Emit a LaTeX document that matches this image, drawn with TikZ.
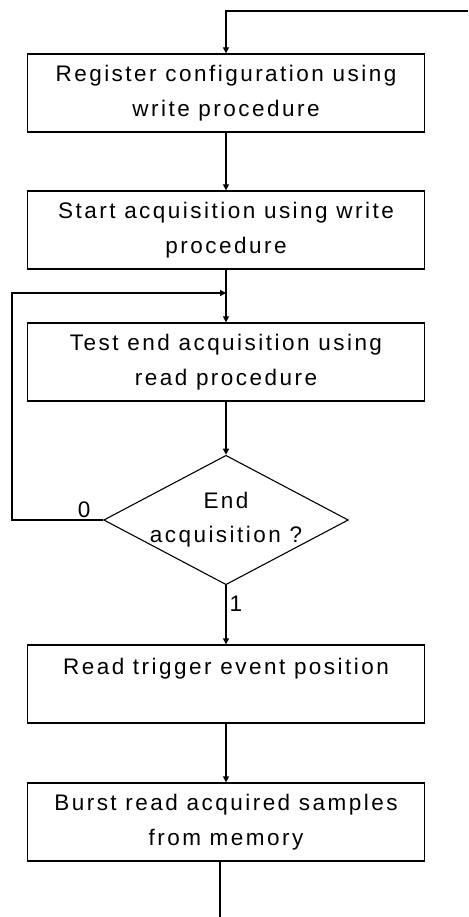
\documentclass[tikz,border=0pt]{standalone}
\usepackage{fontspec}
\setmainfont{Liberation Sans}[LetterSpace=11]
\usetikzlibrary{shapes.geometric,arrows.meta}

\begin{document}
\begin{tikzpicture}[x=1pt,y=-1pt,
	stepbox/.style={draw,line width=1.3pt,minimum width=397pt,minimum height=78pt,inner sep=0,align=center,font=\fontsize{22.5}{35}\selectfont},
	decision/.style={draw,diamond,line width=1.1pt,aspect=1.89,inner sep=-2pt,align=center,font=\fontsize{22.5}{34}\selectfont},
	flow/.style={line width=1.3pt,-{Triangle[length=6pt,width=6pt]}},
	tag/.style={inner sep=0,font=\fontsize{22.5}{25}\selectfont}]
	\useasboundingbox (0,0) rectangle (468,917);
	\node[stepbox] (1) at (226,93) {Register configuration using\\write procedure};
	\node[stepbox] (2) at (226,230) {Start acquisition using write\\procedure};
	\node[stepbox] (3) at (226,362) {Test end acquisition using\\read procedure};
	\node[decision] (4) at (226,520) {End\\acquisition ?};
	\node[stepbox] (5) at (226,684) {Read trigger event position\\\mbox{}};
	\node[stepbox] (6) at (226,822) {Burst read acquired samples\\from memory};
	\coordinate (in) at (468,11);
	\coordinate (merge) at (226,293);
	\coordinate (out) at (220,917);
	\draw[flow] (in) -| (1.north);
	\draw[flow] (1) -- (2);
	\draw[flow] (2) -- (3);
	\draw[flow] (3) -- (4);
	\draw[flow] (4.west) -- node[tag,pos=0,anchor=south east,xshift=-12pt,yshift=2pt] {0} (12,520) |- (merge);
	\draw[flow] (4) -- node[tag,pos=0.32,anchor=west,xshift=3pt] {1} (5);
	\draw[flow] (5) -- (6);
	\draw[line width=1.3pt] (6.south -| out) -- (out);
\end{tikzpicture}
\end{document}
